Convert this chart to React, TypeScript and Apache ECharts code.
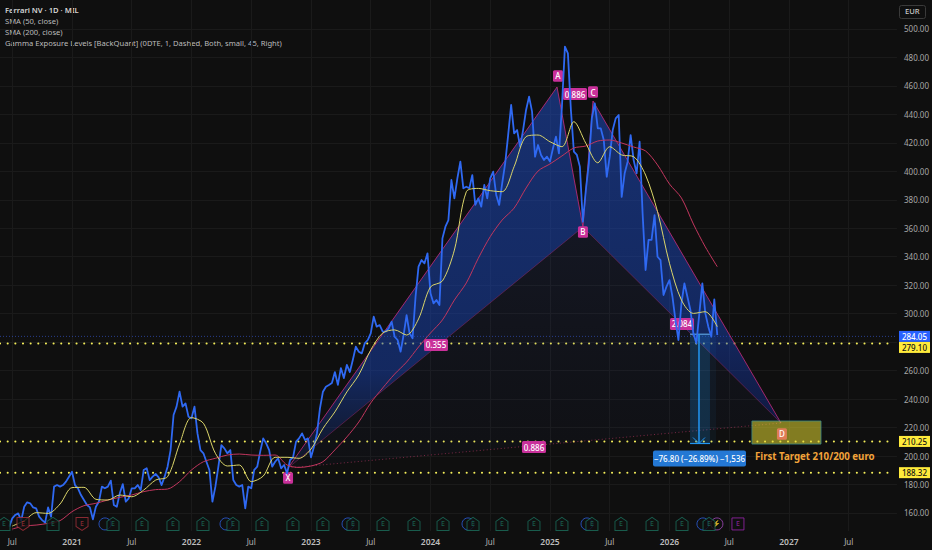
import React, { useEffect, useRef } from "react";
import * as echarts from "echarts";

const FONT = '"Noto Sans", "Open Sans", sans-serif';

const headerLines = [
  "Ferrari NV · 1D · MIL",
  "SMA (50, close)",
  "SMA (200, close)",
  "Gamma Exposure Levels [BackQuant] (0DTE, 1, Dashed, Both, small, 45, Right)",
];

const xTickValues = [2020.5, 2021, 2021.5, 2022, 2022.5, 2023, 2023.5, 2024, 2024.5, 2025, 2025.5, 2026, 2026.5, 2027, 2027.5];
const yLabelValues = [160, 180, 200, 220, 240, 260, 300, 320, 340, 360, 380, 400, 420, 440, 460, 480, 500];
const yGridValues = [160, 180, 200, 220, 240, 260, 280, 300, 320, 340, 360, 380, 400, 420, 440, 460, 480, 500];

const closeStart = 2020.475;
const closeStep = 0.025;
const closes = [
  150.4, 156.2, 158.6, 159.7, 154.6, 164.4, 167.5, 166.8, 163.9, 163.2,
  157.4, 155.0, 153.2, 163.9, 157.4, 178.5, 179.6, 178.5, 179.6, 182.0,
  185.5, 189.0, 179.6, 177.3, 172.6, 169.1, 165.6, 163.9, 155.5, 164.4,
  167.9, 178.5, 177.3, 178.5, 182.7, 165.6, 164.4, 173.8, 180.3, 167.9,
  170.3, 177.3, 177.3, 179.6, 176.1, 190.2, 191.4, 183.1, 185.5, 187.4,
  185.0, 179.6, 185.5, 192.5, 204.2, 228.8, 234.7, 245.2, 234.7, 237.0,
  227.6, 226.5, 234.7, 215.9, 204.2, 201.9, 196.0, 190.2, 167.9, 178.5,
  192.5, 207.7, 205.4, 201.9, 204.2, 183.1, 179.6, 178.5, 179.6, 163.2,
  178.5, 177.3, 190.2, 192.5, 203.1, 212.4, 208.9, 204.2, 192.5, 196.0,
  198.4, 191.4, 193.7, 187.8, 197.2, 199.1, 210.1, 212.4, 215.9, 211.3,
  212.4, 199.1, 206.6, 215.9, 233.5, 245.2, 248.7, 249.9, 251.3, 259.0,
  250.0, 261.8, 254.8, 264.0, 259.0, 267.5, 276.8, 273.3, 272.1, 279.2,
  281.5, 286.2, 297.9, 290.9, 292.0, 287.4, 287.4, 289.7, 294.4, 283.8,
  281.5, 273.3, 285.0, 299.0, 286.2, 282.7, 311.9, 333.0, 337.7, 335.4,
  342.4, 314.3, 307.3, 309.6, 306.1, 352.9, 361.1, 365.8, 393.9, 381.0,
  395.1, 406.8, 388.1, 389.2, 388.1, 397.4, 376.4, 381.0, 375.2, 390.4,
  381.0, 395.1, 399.8, 383.4, 376.4, 391.6, 405.6, 425.5, 446.6, 426.7,
  429.0, 417.3, 429.0, 443.1, 452.5, 441.9, 410.3, 418.5, 411.5, 408.0,
  410.3, 406.8, 416.2, 424.4, 412.6, 445.4, 487.6, 482.9, 443.1, 413.8,
  411.5, 403.3, 364.6, 386.9, 405.6, 437.2, 447.8, 430.2, 430.2, 422.0,
  396.2, 410.3, 429.0, 437.2, 439.6, 382.0, 398.6, 406.8, 425.5, 408.0,
  398.6, 420.8, 370.5, 330.7, 351.8, 351.8, 369.3, 340.0, 337.7, 313.1,
  319.0, 323.6, 311.9, 295.5, 281.5, 307.3, 321.3, 311.9, 302.6, 286.2,
  279.2, 300.2, 321.3, 300.2, 290.9, 283.8, 310.0, 285.0,
];

const smaStart = 2020.5;
const smaStep = 0.1;
const sma50 = [
  150.8, 154.6, 160.2, 159.7, 166.3, 177.8, 178.0, 169.6, 169.1, 172.6,
  171.4, 176.1, 183.1, 185.5, 208.4, 227.0, 223.0, 201.9, 193.0, 193.7,
  182.0, 185.9, 199.1, 199.1, 198.4, 204.9, 219.4, 231.0, 245.0, 257.0,
  274.5, 286.4, 288.6, 285.0, 296.3, 318.8, 323.0, 344.7, 385.7, 388.0,
  386.4, 385.7, 403.3, 424.4, 425.5, 420.8, 417.3, 434.9, 419.7, 406.0,
  417.3, 411.5, 410.3, 397.4, 371.7, 335.4, 309.6, 300.2, 301.4, 290.9,
];
const sma200 = [
  148.7, 150.8, 151.5, 152.7, 154.6, 160.9, 165.1, 166.8, 169.1, 171.0,
  172.6, 175.0, 176.4, 176.8, 182.0, 190.2, 196.0, 198.4, 200.7, 201.4,
  200.7, 200.5, 200.7, 193.7, 192.0, 193.0, 196.0, 204.3, 213.4, 223.9,
  237.3, 247.8, 257.6, 266.0, 276.6, 286.4, 295.6, 309.6, 321.6, 338.9,
  354.1, 365.8, 374.2, 388.3, 400.2, 405.2, 410.8, 416.4, 417.8, 421.3,
  422.0, 419.9, 417.1, 414.3, 404.5, 391.1, 381.3, 363.0, 346.9, 333.0,
];

// Harmonic pattern vertices: X, A, B, C, D
const patternYears = [2022.808, 2025.059, 2025.276, 2025.36, 2026.933];
const patternPrices = [191.6, 459.25, 360.9, 449.4, 223.2];

const badgeTexts = ["A", "B", "C", "X", "0.355", "0.886", "2.084", "0.886", "D"];
const badgeYears = [2025.067, 2025.276, 2025.36, 2022.808, 2024.046, 2025.21, 2026.105, 2024.866, 2026.941];
const badgePrices = [467, 357.4, 455.7, 184.6, 278, 454.3, 292.8, 206.3, 215.5];

const levelValues = [279.1, 210.25, 188.32];
const lastPrice = 284.05;

const measureYears = [2026.172, 2026.247, 2026.339];
const measurePrices = [285.6, 208.8];
const measureText = "−76.80 (−26.89%) −1,536";

const targetYears = [2026.69, 2027.268];
const targetPrices = [224.6, 208.4];
const targetText = "First Target 210/200 euro";

const iconPrice = 152.3;
const earningsGreen = [2020.431, 2020.841, 2021.343, 2021.586, 2021.845, 2022.096, 2022.347, 2022.59, 2022.849, 2023.1, 2023.351, 2023.603, 2023.862, 2024.105, 2024.356, 2024.598, 2024.866, 2025.1, 2025.351, 2025.594, 2025.854, 2026.105, 2026.331];
const earningsRed = [2020.59, 2021.084];
const dividendBlue = [2021.276, 2022.289, 2023.31, 2024.314, 2025.31, 2026.28];
const flashEvents = [2026.397];
const futureEarnings = [2026.573];

const HOUSE = "path://M0 4 L6 0 L12 4 L12 13 L0 13 Z";
const HOUSE_DOWN = "path://M0 0 L12 0 L12 9 L6 13 L0 9 Z";

const X_MIN = 2020.3975;
const X_MAX = 2027.9038;
const Y_MIN = 147.33;
const Y_MAX = 520.37;

const px = (api: any, year: number, price: number) => api.coord([year, price]);

function patternItem(_: any, api: any) {
  const p = patternYears.map((y, i) => px(api, y, patternPrices[i]));
  const [X, A, B, C, D] = p;
  const pink = "rgba(200,44,125,0.8)";
  return {
    type: "group",
    children: [
      {
        type: "polygon",
        shape: { points: [X, B, D] },
        style: {
          fill: new echarts.graphic.LinearGradient(0, 0, 0, 1, [
            { offset: 0, color: "rgba(50,70,150,0.15)" },
            { offset: 1, color: "rgba(30,45,110,0.05)" },
          ]),
        },
      },
      {
        type: "polygon",
        shape: { points: [X, A, B] },
        style: {
          fill: new echarts.graphic.LinearGradient(0, 0, 0, 1, [
            { offset: 0, color: "rgba(30,75,190,0.55)" },
            { offset: 0.75, color: "rgba(25,70,190,0.46)" },
            { offset: 1, color: "rgba(25,60,160,0.15)" },
          ]),
        },
      },
      {
        type: "polygon",
        shape: { points: [B, C, D] },
        style: {
          fill: new echarts.graphic.LinearGradient(0, 0, 0, 1, [
            { offset: 0, color: "rgba(30,75,190,0.55)" },
            { offset: 0.7, color: "rgba(25,70,190,0.46)" },
            { offset: 1, color: "rgba(20,45,160,0.35)" },
          ]),
        },
      },
      { type: "polyline", shape: { points: [X, A, B, C, D] }, style: { stroke: pink, lineWidth: 1, fill: "none" } },
      { type: "polyline", shape: { points: [X, B, D] }, style: { stroke: "rgba(200,44,125,0.45)", lineWidth: 0.8, fill: "none" } },
      { type: "line", shape: { x1: X[0], y1: X[1], x2: D[0], y2: D[1] }, style: { stroke: "rgba(206,60,110,0.7)", lineWidth: 0.8, lineDash: [1, 2.5] } },
    ],
  };
}

function targetItem(_: any, api: any) {
  const a = px(api, targetYears[0], targetPrices[0]);
  const b = px(api, targetYears[1], targetPrices[1]);
  return {
    type: "group",
    children: [
      {
        type: "rect",
        shape: { x: a[0], y: a[1], width: b[0] - a[0], height: b[1] - a[1] },
        style: { fill: "rgba(225,215,50,0.55)", stroke: "rgba(60,140,135,0.8)", lineWidth: 1 },
      },
      {
        type: "text",
        x: a[0] + 3,
        y: b[1] + 12,
        style: { text: targetText, fill: "#f2a33a", font: `700 9.7px ${FONT}`, textAlign: "left", textVerticalAlign: "middle" },
      },
    ],
  };
}

function measureItem(_: any, api: any) {
  const topLeft = px(api, measureYears[0], measurePrices[0]);
  const mid = px(api, measureYears[1], measurePrices[1]);
  const topMid = px(api, measureYears[1], measurePrices[0]);
  const right = px(api, measureYears[2], measurePrices[1]);
  const stroke = "#2196f3";
  return {
    type: "group",
    children: [
      {
        type: "rect",
        shape: { x: topLeft[0], y: topLeft[1], width: right[0] - topLeft[0], height: right[1] - topLeft[1] },
        style: { fill: "rgba(33,150,243,0.22)" },
      },
      { type: "rect", shape: { x: right[0], y: topLeft[1], width: 6, height: right[1] - topLeft[1] }, style: { fill: "rgba(33,150,243,0.06)" } },
      { type: "line", shape: { x1: topLeft[0], y1: topLeft[1], x2: right[0], y2: topLeft[1] }, style: { stroke: "#6ab7f5", lineWidth: 1 } },
      { type: "line", shape: { x1: topLeft[0], y1: right[1], x2: right[0], y2: right[1] }, style: { stroke, lineWidth: 1.2 } },
      { type: "line", shape: { x1: topMid[0], y1: topMid[1], x2: mid[0], y2: mid[1] }, style: { stroke, lineWidth: 1.5 } },
      { type: "polyline", shape: { points: [[mid[0] - 6, mid[1] - 6], [mid[0], mid[1]], [mid[0] + 6, mid[1] - 6]] }, style: { stroke, lineWidth: 1, fill: "none" } },
      {
        type: "rect",
        shape: { x: mid[0] - 46, y: mid[1] + 7, width: 93, height: 16, r: 2 },
        style: { fill: "#2478d4" },
      },
      {
        type: "text",
        x: mid[0] + 0.5,
        y: mid[1] + 15,
        style: { text: measureText, fill: "#ffffff", font: `500 8px ${FONT}`, textAlign: "center", textVerticalAlign: "middle" },
      },
    ],
  };
}

function badgeItem(params: any, api: any) {
  const i = params.dataIndex;
  const c = px(api, api.value(0), api.value(1));
  const text = badgeTexts[i];
  const w = text.length > 1 ? 24 : 10;
  const h = text.length > 1 ? 12 : 11.5;
  const isD = text === "D";
  return {
    type: "group",
    children: [
      {
        type: "rect",
        shape: { x: c[0] - w / 2, y: c[1] - h / 2, width: w, height: h, r: 1.5 },
        style: { fill: isD ? "rgba(240,125,95,0.85)" : "#c9309a" },
      },
      {
        type: "text",
        x: c[0],
        y: c[1],
        style: { text, fill: "#ffffff", font: `500 8px ${FONT}`, textAlign: "center", textVerticalAlign: "middle" },
      },
    ],
  };
}

const tagValues = [lastPrice, levelValues[0], levelValues[1], levelValues[2]];
const tagFills = ["#2962ff", "#ffeb3b", "#ffeb3b", "#ffeb3b"];
const tagTexts = ["#ffffff", "#131313", "#131313", "#131313"];
const tagNudges = [0, 4, 0, 0];

function tagItem(params: any, api: any) {
  const i = params.dataIndex;
  const y = api.coord([X_MAX, api.value(1)])[1] + tagNudges[i];
  const x = api.coord([X_MAX, api.value(1)])[0];
  return {
    type: "group",
    children: [
      { type: "rect", shape: { x: x + 2, y: y - 5.5, width: 31, height: 11 }, style: { fill: tagFills[i] } },
      {
        type: "text",
        x: x + 17.5,
        y,
        style: { text: tagValues[i].toFixed(2), fill: tagTexts[i], font: `500 8px ${FONT}`, textAlign: "center", textVerticalAlign: "middle" },
      },
    ],
  };
}

function iconSeries(name: string, years: number[], symbol: string, size: number | number[], color: string, letter: string, z: number, fill = "#0f0f0f") {
  return {
    name,
    type: "scatter",
    silent: true,
    z,
    symbol,
    symbolSize: size,
    data: years.map((y) => [y, iconPrice]),
    itemStyle: { color: fill, borderColor: color, borderWidth: 1 },
    label: { show: !!letter, formatter: letter, position: "inside", color, fontSize: 7, fontFamily: FONT, fontWeight: 500 },
  };
}

function buildOption() {
  const level = (v: number) => ({
    type: "line",
    silent: true,
    z: 1,
    symbol: "none",
    data: [[X_MIN, v], [X_MIN + 7.475, v]],
    lineStyle: { color: "#f4ee5a", width: 2, type: [0.1, 7.55], cap: "round" },
  });
  return {
    animation: false,
    backgroundColor: "#0f0f0f",
    textStyle: { fontFamily: FONT },
    grid: { left: 0, right: 35, top: 0, bottom: 19, containLabel: false },
    xAxis: {
      type: "value",
      min: X_MIN,
      max: X_MAX,
      axisLine: { show: false },
      axisTick: { show: false, customValues: xTickValues },
      splitLine: { show: true, lineStyle: { color: "#1a1a1a", width: 1 } },
      axisLabel: {
        customValues: xTickValues,
        margin: 6,
        hideOverlap: false,
        showMinLabel: true,
        showMaxLabel: true,
        fontSize: 8,
        color: "#b4b4b4",
        fontFamily: FONT,
        formatter: (v: number) => (Number.isInteger(v) ? `{y|${v}}` : "Jul"),
        rich: { y: { fontSize: 8.5, fontWeight: 600, color: "#bdbdbd", fontFamily: FONT } },
      },
    },
    yAxis: {
      type: "value",
      position: "right",
      min: Y_MIN,
      max: Y_MAX,
      axisLine: { show: false },
      axisTick: { show: false, customValues: yGridValues },
      splitLine: { show: true, lineStyle: { color: "#1a1a1a", width: 1 } },
      axisLabel: {
        customValues: yLabelValues,
        margin: 7,
        fontSize: 8,
        color: "#a8a8a8",
        fontFamily: FONT,
        formatter: (v: number) => v.toFixed(2),
      },
    },
    graphic: [
      ...headerLines.map((text, i) => ({
        type: "text",
        left: 5,
        top: 6 + i * 10.9,
        style: {
          text,
          fill: i === 0 ? "#d6d6d6" : "#bcbcbc",
          font: `${i === 0 ? 600 : 400} 7.6px ${FONT}`,
        },
      })),
      {
        type: "rect",
        left: 899,
        top: 5,
        shape: { width: 26, height: 13, r: 2 },
        style: { fill: "#0f0f0f", stroke: "#3a3a3a", lineWidth: 1 },
      },
      {
        type: "text",
        left: 905,
        top: 7,
        style: { text: "EUR", fill: "#c8c8c8", font: `500 7.6px ${FONT}` },
      },
    ],
    series: [
      ...levelValues.map(level),
      {
        name: "Last price line",
        type: "line",
        silent: true,
        z: 1,
        symbol: "none",
        data: [[X_MIN, lastPrice], [X_MAX, lastPrice]],
        lineStyle: { color: "rgba(60,100,240,0.55)", width: 1, type: [1, 2] },
      },
      {
        name: "Harmonic pattern",
        type: "custom",
        silent: true,
        z: 2,
        renderItem: patternItem,
        data: [[patternYears[2], patternPrices[2]]],
      },
      {
        name: "Target zone",
        type: "custom",
        silent: true,
        z: 3,
        renderItem: targetItem,
        data: [[targetYears[0], targetPrices[0]]],
      },
      {
        name: "Measure",
        type: "custom",
        silent: true,
        z: 3,
        renderItem: measureItem,
        data: [[measureYears[1], measurePrices[1]]],
      },
      {
        name: "Badges",
        type: "custom",
        silent: true,
        z: 4,
        renderItem: badgeItem,
        data: badgeYears.map((y, i) => [y, badgePrices[i]]),
      },
      {
        name: "Ferrari NV close",
        type: "line",
        silent: true,
        z: 5,
        symbol: "none",
        data: closes.map((v, i) => [closeStart + i * closeStep, v]),
        lineStyle: { color: "#2f69f2", width: 1.8, join: "round" },
      },
      {
        name: "SMA 200",
        type: "line",
        silent: true,
        z: 6,
        symbol: "none",
        smooth: 0.3,
        data: sma200.map((v, i) => [smaStart + i * smaStep, v]),
        lineStyle: { color: "#c2365e", width: 1 },
      },
      {
        name: "SMA 50",
        type: "line",
        silent: true,
        z: 6,
        symbol: "none",
        smooth: 0.3,
        data: sma50.map((v, i) => [smaStart + i * smaStep, v]),
        lineStyle: { color: "#dcd66a", width: 1 },
      },
      {
        name: "Price tags",
        type: "custom",
        silent: true,
        z: 7,
        clip: false,
        renderItem: tagItem,
        data: tagValues.map((v) => [X_MAX, v]),
      },
      iconSeries("Dividends", dividendBlue, "circle", 12, "#2c5fe0", "", 7, "transparent"),
      iconSeries("Earnings", earningsGreen, HOUSE, [12, 13], "#1c6f5c", "E", 8),
      iconSeries("Earnings miss", earningsRed, HOUSE_DOWN, [12, 13], "#a8323c", "E", 8),
      iconSeries("Events", flashEvents, "circle", 12, "#a64bc0", "⚡", 7, "transparent"),
      iconSeries("Upcoming earnings", futureEarnings, "rect", 12, "#9c27b0", "E", 8),
    ],
  };
}

export default function App() {
  const ref = useRef<HTMLDivElement>(null);
  useEffect(() => {
    document.body.style.margin = "0";
    document.body.style.background = "#0f0f0f";
    const chart = echarts.init(ref.current as HTMLDivElement, undefined, { renderer: "svg" });
    chart.setOption(buildOption() as any);
    return () => chart.dispose();
  }, []);
  return <div ref={ref} style={{ width: 932, height: 550 }} />;
}
